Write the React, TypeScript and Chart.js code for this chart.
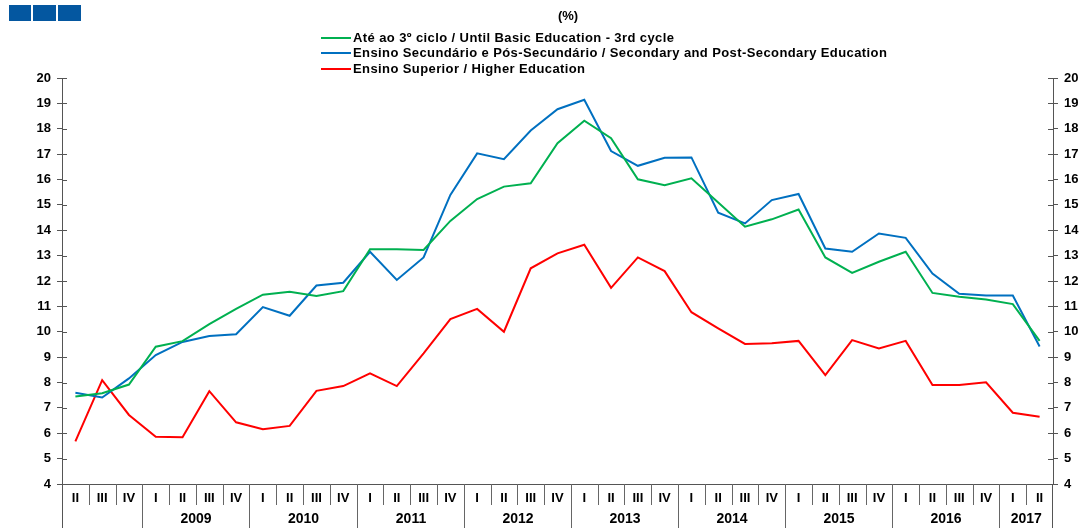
import React, { useEffect, useRef } from 'react';
import { Chart, registerables } from 'chart.js';

Chart.register(...registerables);

// ---------- data ----------
const quarters: string[] = [
  'II', 'III', 'IV',
  'I', 'II', 'III', 'IV',
  'I', 'II', 'III', 'IV',
  'I', 'II', 'III', 'IV',
  'I', 'II', 'III', 'IV',
  'I', 'II', 'III', 'IV',
  'I', 'II', 'III', 'IV',
  'I', 'II', 'III', 'IV',
  'I', 'II', 'III', 'IV',
  'I', 'II',
];
const years: string[] = ['2009', '2010', '2011', '2012', '2013', '2014', '2015', '2016', '2017'];

const seriesNames: string[] = [
  'Até ao 3º ciclo / Until Basic Education - 3rd cycle',
  'Ensino Secundário e Pós-Secundário / Secondary and Post-Secondary Education',
  'Ensino Superior / Higher Education',
];

const basicEducation: number[] = [
  7.45, 7.58, 7.92, 9.41, 9.63, 10.3, 10.9, 11.46, 11.58, 11.41, 11.6, 13.25, 13.25,
  13.22, 14.37, 15.23, 15.72, 15.85, 17.43, 18.32, 17.63, 16.01, 15.77, 16.05, 15.09,
  14.14, 14.43, 14.82, 12.93, 12.32, 12.76, 13.15, 11.53, 11.38, 11.27, 11.09, 9.64,
];
const secondaryEducation: number[] = [
  7.6, 7.41, 8.16, 9.08, 9.6, 9.83, 9.9, 10.97, 10.63, 11.82, 11.93, 13.15, 12.04,
  12.93, 15.39, 17.03, 16.8, 17.93, 18.77, 19.14, 17.12, 16.54, 16.86, 16.87, 14.69,
  14.27, 15.19, 15.43, 13.28, 13.15, 13.87, 13.7, 12.29, 11.5, 11.43, 11.43, 9.42,
];
const higherEducation: number[] = [
  5.68, 8.09, 6.72, 5.86, 5.84, 7.66, 6.43, 6.16, 6.29, 7.67, 7.86, 8.36, 7.86,
  9.15, 10.5, 10.9, 10.0, 12.5, 13.09, 13.43, 11.73, 12.93, 12.39, 10.77, 10.13,
  9.52, 9.55, 9.64, 8.29, 9.67, 9.34, 9.64, 7.9, 7.9, 8.01, 6.81, 6.65,
];

const yMin = 4;
const yMax = 20;
const yStep = 1;
const unitLabel = '(%)';

// ---------- styles ----------
const FONT = '"Liberation Sans", Arial, Helvetica, sans-serif';
const COLORS = ['#00B050', '#0070C0', '#FF0000'];
const AXIS = '#555555';
const SEP = '#666666';

const decorPlugin = {
  id: 'decor',
  afterDraw(chart: any) {
    const ctx: any = chart.ctx;
    const { left, right, bottom } = chart.chartArea;
    const H = chart.height;
    const xs = chart.scales.x;
    const ys = chart.scales.y;
    ctx.save();

    const seg = (x1: number, y1: number, x2: number, y2: number, color: string) => {
      ctx.strokeStyle = color;
      ctx.lineWidth = 1;
      ctx.beginPath();
      ctx.moveTo(x1, y1);
      ctx.lineTo(x2, y2);
      ctx.stroke();
    };

    // inner tick marks on both y axes
    for (let v = yMin; v <= yMax; v += yStep) {
      const py = Math.round(ys.getPixelForValue(v)) + 0.5;
      seg(left, py, left + 5, py, AXIS);
      seg(right - 5, py, right, py, AXIS);
    }

    // extend axes down through the label rows
    seg(Math.round(left) + 0.5, bottom, Math.round(left) + 0.5, H, AXIS);
    seg(Math.round(right) - 0.5, bottom, Math.round(right) - 0.5, H, AXIS);

    // quarter labels + separators
    ctx.fillStyle = '#000';
    ctx.font = `bold 13px ${FONT}`;
    ctx.textAlign = 'center';
    ctx.textBaseline = 'middle';
    const n = quarters.length;
    const boundaries: number[] = [];
    for (let i = 0; i < n; i++) {
      const cx = xs.getPixelForValue(i);
      ctx.fillText(quarters[i], cx, bottom + 14);
      if (i < n - 1) {
        const sx = Math.round((cx + xs.getPixelForValue(i + 1)) / 2) + 0.5;
        if (quarters[i + 1] === 'I') {
          boundaries.push(sx);
          seg(sx, bottom, sx, H, SEP);
        } else {
          seg(sx, bottom, sx, bottom + 21, SEP);
        }
      }
    }
    boundaries.push(right);
    // year labels
    ctx.font = `bold 14px ${FONT}`;
    for (let k = 0; k < years.length && k < boundaries.length - 1; k++) {
      const cx = (boundaries[k] + boundaries[k + 1]) / 2;
      ctx.fillText(years[k], cx, bottom + 35);
    }

    // unit title
    ctx.font = `bold 13px ${FONT}`;
    ctx.fillText(unitLabel, 568, 16);

    // legend
    ctx.textAlign = 'left';
    ctx.font = `bold 13px ${FONT}`;
    if ('letterSpacing' in ctx) ctx.letterSpacing = '0.4px';
    const legendY = [38, 53, 69];
    chart.data.datasets.forEach((ds: any, i: number) => {
      ctx.strokeStyle = ds.borderColor;
      ctx.lineWidth = 2;
      ctx.beginPath();
      ctx.moveTo(321, legendY[i]);
      ctx.lineTo(351, legendY[i]);
      ctx.stroke();
      ctx.fillStyle = '#000';
      ctx.fillText(ds.label, 353, legendY[i]);
    });
    if ('letterSpacing' in ctx) ctx.letterSpacing = '0px';

    // logo squares
    ctx.fillStyle = '#0457A0';
    ctx.fillRect(9, 5, 22, 16);
    ctx.fillRect(33, 5, 23, 16);
    ctx.fillRect(58, 5, 23, 16);

    ctx.restore();
  },
};

export default function App() {
  const ref = useRef<HTMLCanvasElement>(null);

  useEffect(() => {
    document.body.style.margin = '0';
    const canvas = ref.current;
    if (!canvas) return;
    const yAxis = (position: 'left' | 'right', width: number) => ({
      type: 'linear' as const,
      position,
      min: yMin,
      max: yMax,
      ticks: {
        stepSize: yStep,
        color: '#000',
        padding: 6,
        font: { family: FONT, size: 13, weight: 'bold' as const },
      },
      grid: { drawOnChartArea: false, drawTicks: true, tickLength: 5, color: AXIS },
      border: { display: true, color: AXIS, width: 1 },
      afterFit: (s: any) => {
        s.width = width;
      },
    });

    const chart = new Chart(canvas, {
      type: 'line',
      data: {
        labels: quarters,
        datasets: [basicEducation, secondaryEducation, higherEducation].map((d, i) => ({
          label: seriesNames[i],
          data: d,
          borderColor: COLORS[i],
          backgroundColor: COLORS[i],
          borderWidth: 2,
          pointRadius: 0,
          tension: 0,
          fill: false,
        })),
      },
      options: {
        animation: false,
        responsive: false,
        maintainAspectRatio: false,
        layout: { padding: { top: 78, left: 0, right: 0, bottom: 0 } },
        plugins: {
          legend: { display: false },
          title: { display: false },
          tooltip: { enabled: false },
        },
        scales: {
          x: {
            type: 'category',
            offset: true,
            ticks: { display: false },
            grid: { display: true, drawOnChartArea: false, drawTicks: false, color: AXIS },
            border: { display: true, color: AXIS, width: 1 },
            afterFit: (s: any) => {
              s.height = 44;
            },
          },
          y: yAxis('left', 62),
          y2: yAxis('right', 35),
        },
      },
      plugins: [decorPlugin],
    });
    return () => chart.destroy();
  }, []);

  return (
    <div style={{ width: 1088, height: 528, background: '#fff' }}>
      <canvas ref={ref} width={1088} height={528} style={{ display: 'block' }} />
    </div>
  );
}
